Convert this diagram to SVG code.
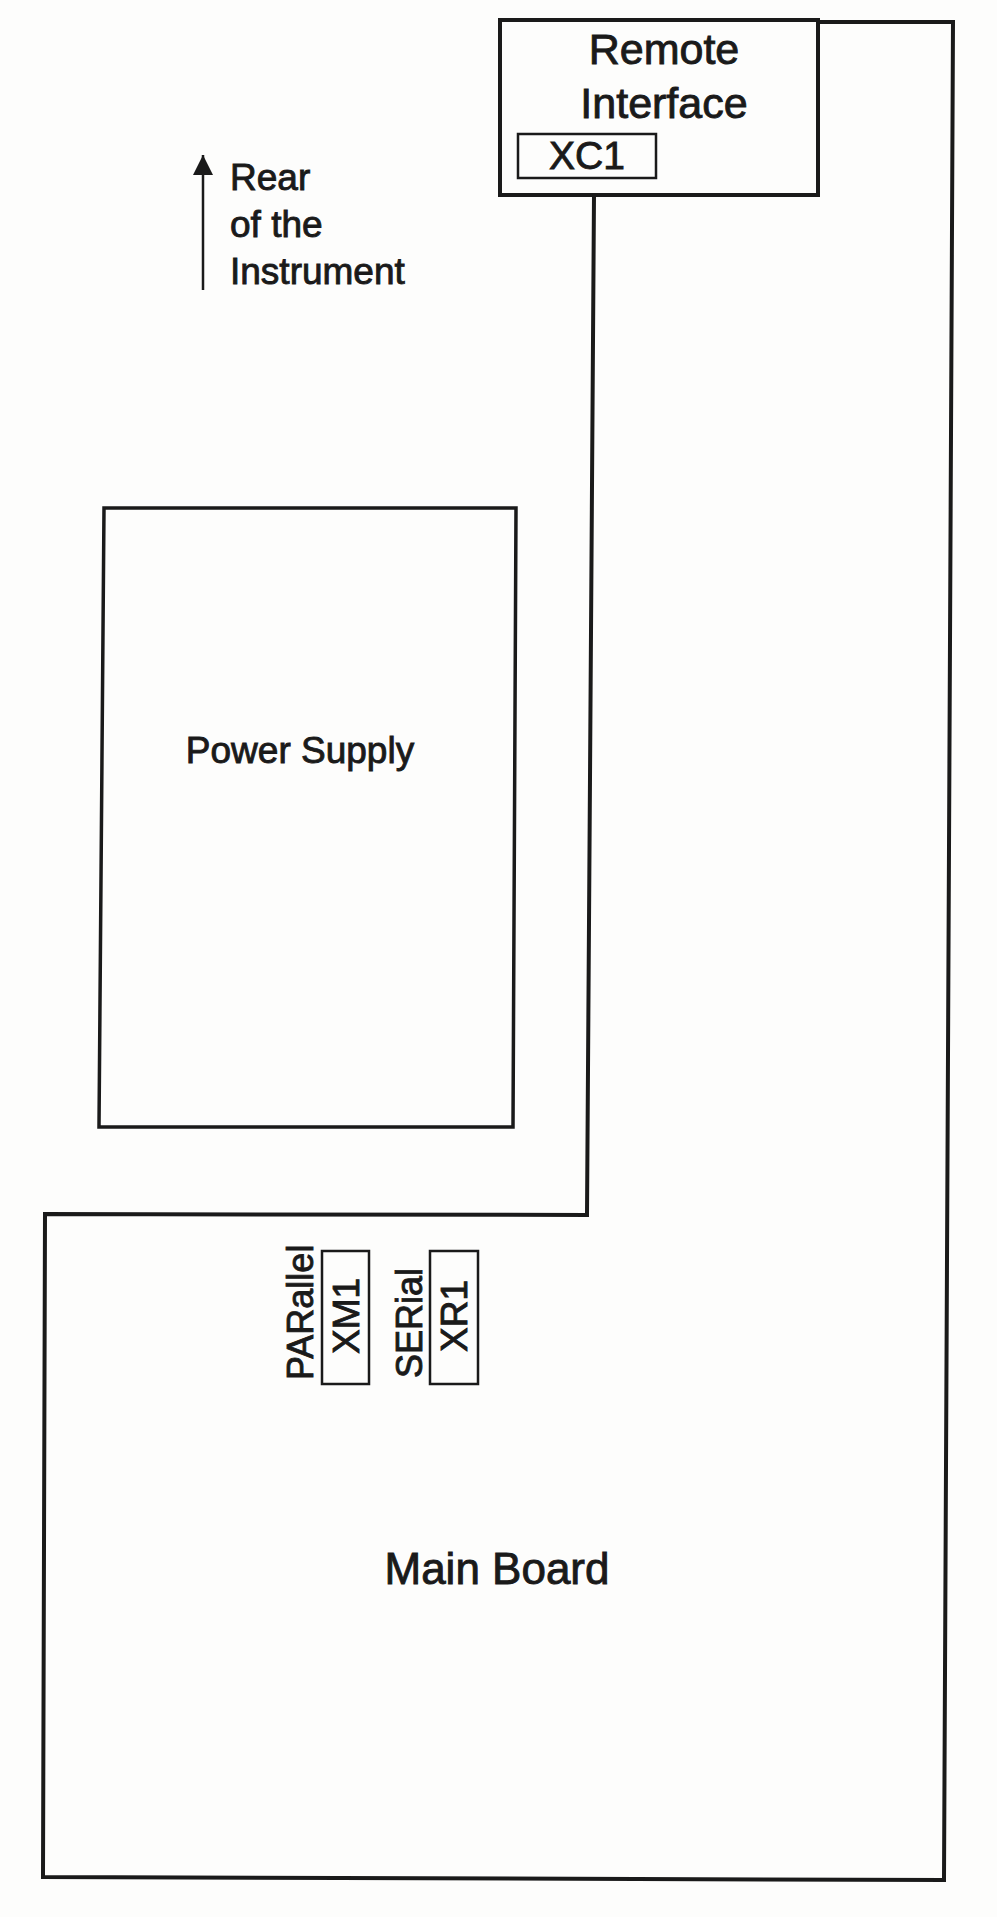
<svg xmlns="http://www.w3.org/2000/svg" width="997" height="1917" viewBox="0 0 997 1917">
<style>
.ln{fill:none;stroke:#1a1a1a;stroke-linejoin:miter}
.t{font-family:"Liberation Sans",Arial,sans-serif;fill:#1a1a1a;stroke:#1a1a1a;stroke-width:0.9}
</style>
<defs>
<marker id="ah" markerWidth="20" markerHeight="20" refX="18" refY="9" orient="auto" markerUnits="userSpaceOnUse" viewBox="0 0 18 18">
<path d="M0,0 L18,9 L0,18 z" fill="#1a1a1a"/>
</marker>
</defs>
<rect width="997" height="1917" fill="#fdfdfc"/>
<g id="main-board">
<polyline class="ln" stroke-width="4" points="818,22 953,22 944,1880 43,1877 45,1214 587,1215 594,195"/>
<text class="t" x="497" y="1584" font-size="44" text-anchor="middle">Main Board</text>
</g>
<g id="remote-interface">
<rect class="ln" stroke-width="4" x="500" y="20" width="318" height="175"/>
<text class="t" x="664" y="64" font-size="43" text-anchor="middle">Remote</text>
<text class="t" x="664" y="118" font-size="43" text-anchor="middle">Interface</text>
</g>
<g id="xc1">
<rect class="ln" stroke-width="2.5" x="518" y="134" width="138" height="44"/>
<text class="t" x="587" y="169" font-size="39" text-anchor="middle">XC1</text>
</g>
<g id="power-supply">
<polygon class="ln" stroke-width="3.5" points="104,508 516,508 513,1127 99,1127"/>
<text class="t" x="300" y="763" font-size="37" text-anchor="middle">Power Supply</text>
</g>
<g id="xm1">
<rect class="ln" stroke-width="2.5" x="322" y="1251" width="47" height="133"/>
<text class="t" font-size="37" text-anchor="middle" transform="translate(359,1316) rotate(-90)">XM1</text>
<text class="t" font-size="36" text-anchor="start" transform="translate(313,1380) rotate(-90)">PARallel</text>
</g>
<g id="xr1">
<rect class="ln" stroke-width="2.5" x="430" y="1251" width="48" height="133"/>
<text class="t" font-size="37" text-anchor="middle" transform="translate(467,1316) rotate(-90)">XR1</text>
<text class="t" font-size="36" text-anchor="start" transform="translate(422,1378) rotate(-90)">SERial</text>
</g>
<g id="connectors">
<line class="ln" stroke-width="2.5" x1="203" y1="290" x2="203" y2="155" marker-end="url(#ah)"/>
</g>
<g id="rear-label">
<text class="t" x="230" y="190" font-size="37">Rear</text>
<text class="t" x="230" y="237" font-size="37">of the</text>
<text class="t" x="230" y="284" font-size="37">Instrument</text>
</g>
</svg>
